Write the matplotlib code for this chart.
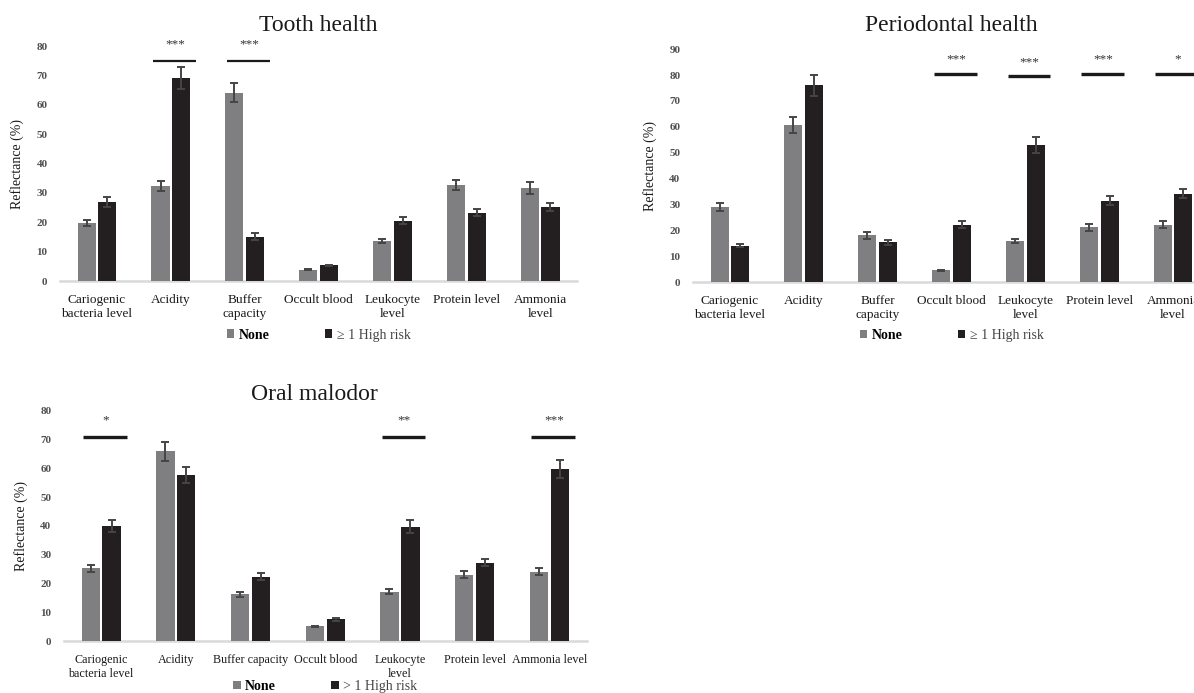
import matplotlib.pyplot as plt
import matplotlib as mpl
from matplotlib.patches import Patch
import numpy as np

# ===== data =====
labels_top = ['Cariogenic\nbacteria level', 'Acidity', 'Buffer\ncapacity', 'Occult blood',
              'Leukocyte\nlevel', 'Protein level', 'Ammonia\nlevel']
labels_bottom = ['Cariogenic\nbacteria level', 'Acidity', 'Buffer capacity', 'Occult blood',
                 'Leukocyte\nlevel', 'Protein level', 'Ammonia level']

tooth_none = [19.8, 32.3, 64.1, 3.9, 13.7, 32.7, 31.7]
tooth_none_err = [1.1, 1.7, 3.2, 0.3, 0.7, 1.8, 2.0]
tooth_high = [26.9, 69.2, 15.1, 5.3, 20.5, 23.2, 25.2]
tooth_high_err = [1.7, 3.7, 1.1, 0.3, 1.2, 1.2, 1.3]
tooth_sig = [(1, 75.0, '***'), (2, 75.0, '***')]

perio_none = [29.0, 60.7, 18.0, 4.5, 16.0, 21.1, 22.2]
perio_none_err = [1.4, 3.1, 1.2, 0.3, 0.8, 1.3, 1.3]
perio_high = [14.1, 76.1, 15.3, 22.2, 53.0, 31.5, 34.2]
perio_high_err = [0.7, 4.0, 0.8, 1.4, 3.0, 1.6, 1.8]
perio_sig = [(3, 80.4, '***'), (4, 79.5, '***'), (5, 80.4, '***'), (6, 80.4, '*')]

malodor_none = [25.2, 66.0, 16.2, 5.1, 17.2, 23.1, 24.1]
malodor_none_err = [1.3, 3.3, 0.9, 0.2, 0.9, 1.2, 1.2]
malodor_high = [40.1, 57.7, 22.4, 7.5, 39.7, 27.2, 59.8]
malodor_high_err = [2.1, 2.9, 1.1, 0.4, 2.2, 1.3, 3.0]
malodor_sig = [(0, 71.0, '*'), (4, 71.0, '**'), (6, 71.0, '***')]

# ===== style =====
GREY = '#7f7f82'
BLACK = '#231f20'
ERR = '#454545'
SERIF = ['Liberation Serif', 'DejaVu Serif']

mpl.rcParams.update({
    'font.family': SERIF,
    'font.size': 9.5,
    'axes.linewidth': 1.5,
})

fig = plt.figure(figsize=(11.94, 6.93), dpi=100)


def draw_panel(rect, title, xlabels, none, none_err, high, high_err, sig,
               ymax, ystep, high_label, sig_lw, star_off, label_size,
               title_x=0.5, title_pad=8, legend_y=-0.22):
    ax = fig.add_axes(rect)
    x = np.arange(len(none))
    width = 0.245
    off = 0.14
    ekw = dict(ecolor=ERR, elinewidth=1.4, capsize=3, capthick=1.4)
    ax.bar(x - off, none, width, yerr=none_err, color=GREY, error_kw=ekw, zorder=3)
    ax.bar(x + off, high, width, yerr=high_err, color=BLACK, error_kw=ekw, zorder=3)

    # significance bars
    for i, y, stars in sig:
        ax.plot([i - 0.24, i + 0.34], [y, y], color='#1a1a1a', lw=sig_lw,
                solid_capstyle='butt', zorder=4)
        ax.text(i + 0.06, y + star_off, stars, ha='center', va='center',
                fontsize=9.5, color='#333333')

    ax.set_xlim(-0.5, len(none) - 0.5)
    ax.set_ylim(0, ymax)
    ax.set_yticks(np.arange(0, ymax + 1, ystep))
    ax.set_xticks(x)
    ax.set_xticklabels(xlabels, fontsize=label_size, linespacing=1.25, color='#1a1a1a')
    ax.tick_params(axis='x', length=0, pad=9)
    ax.tick_params(axis='y', length=0, pad=9, labelsize=8, colors='#505050')
    for lab in ax.get_yticklabels():
        lab.set_fontweight('bold')

    for s in ['top', 'right', 'left']:
        ax.spines[s].set_visible(False)
    ax.spines['bottom'].set_color('#d9d9d9')
    ax.spines['bottom'].set_linewidth(1.8)

    ax.set_ylabel('Reflectance (%)', fontsize=10, color='#1a1a1a', labelpad=9)
    ax.set_title(title, fontsize=17, color='#1a1a1a', pad=title_pad, x=title_x)

    handles = [Patch(facecolor=GREY, edgecolor='none', label='None'),
               Patch(facecolor=BLACK, edgecolor='none', label=high_label)]
    leg = ax.legend(handles=handles, loc='center', bbox_to_anchor=(0.5, legend_y),
                    ncol=2, frameon=False, fontsize=10, handlelength=0.55,
                    handleheight=0.55, handletextpad=0.3, columnspacing=4.0,
                    borderpad=0.1)
    leg.get_texts()[0].set_fontweight('bold')
    leg.get_texts()[1].set_color('#444444')
    return ax


draw_panel([0.0503, 0.5945, 0.433, 0.339], 'Tooth health', labels_top,
           tooth_none, tooth_none_err, tooth_high, tooth_high_err, tooth_sig,
           80, 10, '≥ 1 High risk', 1.6, 5.5, 9.5, title_pad=11, legend_y=-0.23)

draw_panel([0.5804, 0.593, 0.433, 0.336], 'Periodontal health', labels_top,
           perio_none, perio_none_err, perio_high, perio_high_err, perio_sig,
           90, 10, '≥ 1 High risk', 2.4, 5.6, 9.5, title_pad=13, legend_y=-0.228)

draw_panel([0.0534, 0.075, 0.438, 0.3323], 'Oral malodor', labels_bottom,
           malodor_none, malodor_none_err, malodor_high, malodor_high_err, malodor_sig,
           80, 10, '> 1 High risk', 2.4, 5.8, 8.7, title_x=0.479, legend_y=-0.196)

fig.savefig('out.png', dpi=100)
